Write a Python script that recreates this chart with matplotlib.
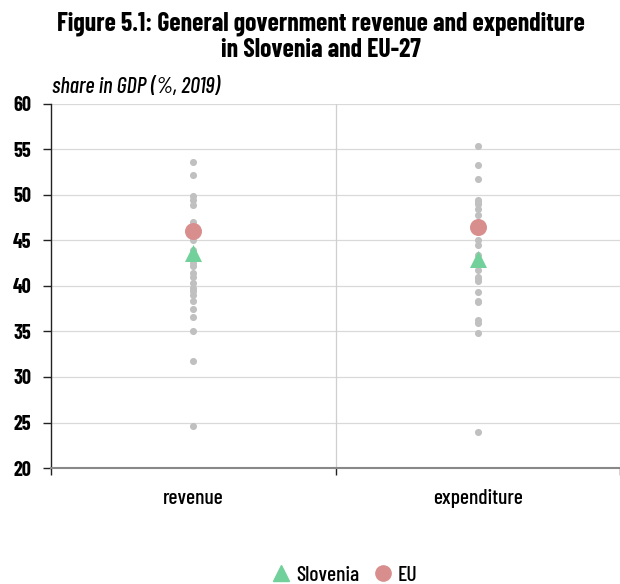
import matplotlib
matplotlib.use("Agg")
import matplotlib.pyplot as plt
from matplotlib.lines import Line2D

plt.rcParams['font.family'] = ['Barlow Condensed', 'DejaVu Sans']

# ---- data ----
categories = ["revenue", "expenditure"]
revenue_countries = [53.6, 52.2, 49.9, 49.4, 48.9, 47.0, 46.5, 46.2, 45.5, 45.0, 44.0,
                     43.2, 42.5, 42.2, 41.4, 41.0, 40.3, 39.8, 39.4, 39.0, 38.3,
                     37.5, 36.6, 35.1, 31.8, 24.6]
expenditure_countries = [55.4, 53.3, 51.8, 49.5, 49.2, 49.0, 48.5, 47.8, 46.8, 46.2,
                         45.0, 44.5, 43.4, 42.6, 42.3, 41.8, 41.0, 40.8, 40.6, 39.3,
                         38.4, 38.2, 36.3, 35.9, 34.8, 24.0]
slovenia = [43.6, 43.0]
eu = [46.0, 46.5]
yticks = [20, 25, 30, 35, 40, 45, 50, 55, 60]

GRAY = "#c0c0c0"
GREEN = "#72d09b"
RED = "#d98e8e"

fig = plt.figure(figsize=(6.2, 5.84), dpi=100)
ax = fig.add_axes([51/620, 1-468/584, 1-51/620, (468-104)/584])

for i, vals in enumerate([revenue_countries, expenditure_countries]):
    ax.scatter([i]*len(vals), vals, s=26, color=GRAY, zorder=3, linewidths=0)
ax.scatter([0, 1], eu, s=150, color=RED, zorder=4, linewidths=0)
ax.scatter([0, 1], slovenia, s=150, marker='^', color=GREEN, zorder=5, linewidths=0)

ax.set_ylim(20, 60)
ax.set_xlim(-0.5, -0.5 + (620-51)/289)
ax.set_yticks(yticks)
ax.set_yticklabels([str(v) for v in yticks], fontsize=14.5, fontweight='bold')
ax.yaxis.grid(True, color="#d9d9d9", linewidth=0.9, zorder=0)
ax.set_axisbelow(True)
ax.axvline(0.5, color="#cfcfcf", linewidth=0.9, zorder=1)

ax.set_xticks([0, 1])
ax.set_xticklabels(categories, fontsize=15.5, fontweight='medium')
ax.tick_params(axis='x', which='major', length=0, pad=15)
ax.set_xticks([-0.5, 0.5, 1.5], minor=True)
ax.tick_params(axis='x', which='minor', length=5, width=1, color='#222222', direction='out')
ax.tick_params(axis='y', length=6, width=1, color='#222222', pad=8)

for s in ['top', 'right']:
    ax.spines[s].set_visible(False)
ax.spines['left'].set_color('#222222')
ax.spines['left'].set_linewidth(1)
ax.spines['bottom'].set_color('#888888')
ax.spines['bottom'].set_linewidth(1.5)

fig.text(0.517, 1-31/584, "Figure 5.1: General government revenue and expenditure",
         ha='center', va='baseline', fontsize=18.5, fontweight='bold')
fig.text(0.517, 1-57/584, "in Slovenia and EU-27",
         ha='center', va='baseline', fontsize=18.5, fontweight='bold')
fig.text(52/620, 1-87/584, "share in GDP (%, 2019)", ha='left', va='center',
         fontsize=16, style='italic', fontweight='medium')

handles = [Line2D([], [], marker='^', color=GREEN, linestyle='none', markersize=11),
           Line2D([], [], marker='o', color=RED, linestyle='none', markersize=11)]
fig.legend(handles, ["Slovenia", "EU"], loc='center', bbox_to_anchor=(0.553, 1-575/584),
           ncol=2, frameon=False, handletextpad=0.1, columnspacing=0.5,
           handlelength=1.2, prop={'size': 15.5, 'weight': 'medium'})

fig.savefig("out.png", dpi=100)
